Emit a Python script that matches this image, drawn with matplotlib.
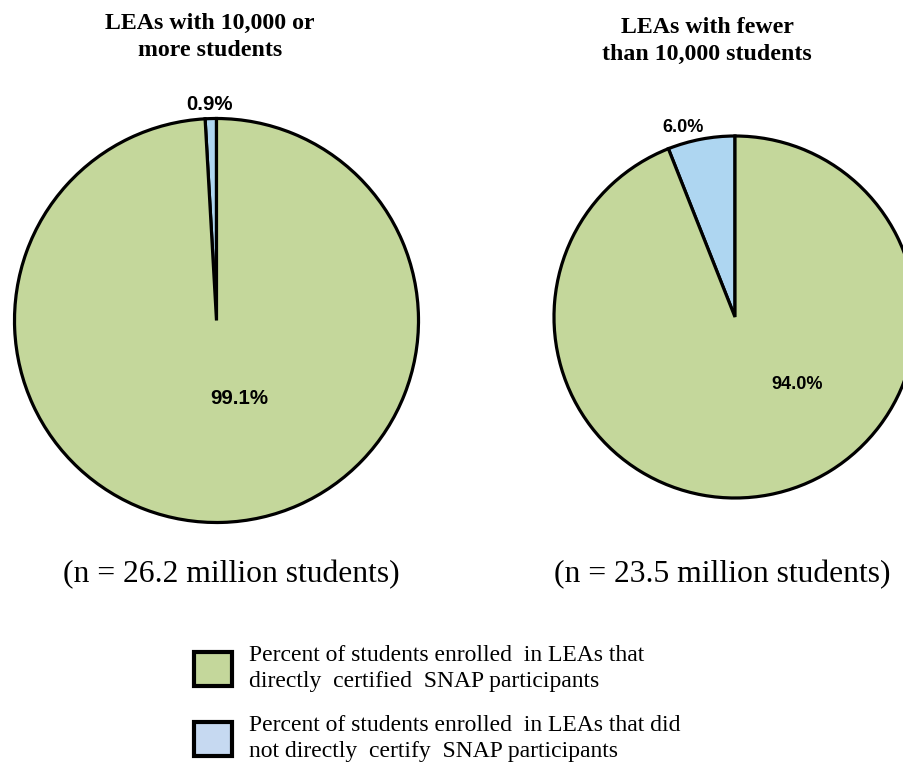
import matplotlib
matplotlib.use("Agg")
import matplotlib.pyplot as plt
from matplotlib.patches import Patch

# Data
titles = ["LEAs with 10,000 or\nmore students", "LEAs with fewer\nthan 10,000 students"]
n_labels = ["(n = 26.2 million students)", "(n = 23.5 million students)"]
not_certified = [0.9, 6.0]
certified = [99.1, 94.0]
legend_labels = ["Percent of students enrolled  in LEAs that\ndirectly  certified  SNAP participants",
                 "Percent of students enrolled  in LEAs that did\nnot directly  certify  SNAP participants"]

green = "#C4D79B"
blue = "#AED6F1"
legend_blue = "#C6D9F1"

W, H = 904, 763
fig = plt.figure(figsize=(W / 100, H / 100), dpi=100)
ax = fig.add_axes([0, 0, 1, 1])

centers = [(216.5, H - 320.5), (735, H - 317)]
radii = [202, 181]
title_pos = [(210, H - 37), (707, H - 41)]
n_pos = [(231, H - 575), (722, H - 575)]
small_lbl_pos = [(210, H - 104), (683, H - 128)]
big_lbl_pos = [(239, H - 399), (797, H - 385)]
lbl_sizes = [14.7, 13.1]

for i in range(2):
    ax.pie([not_certified[i], certified[i]], colors=[blue, green], startangle=90,
           counterclock=True, center=centers[i], radius=radii[i],
           wedgeprops=dict(edgecolor="black", linewidth=2.3))
    ax.text(*title_pos[i], titles[i], ha="center", va="center", fontsize=17.2,
            fontweight="bold", family="Liberation Serif", linespacing=1.4)
    ax.text(*n_pos[i], n_labels[i], ha="center", va="center", fontsize=22.8,
            family="Liberation Serif")
    ax.text(*small_lbl_pos[i], f"{not_certified[i]:.1f}%", ha="center", va="center",
            fontsize=lbl_sizes[i], fontweight="bold", family="Liberation Sans")
    ax.text(*big_lbl_pos[i], f"{certified[i]:.1f}%", ha="center", va="center",
            fontsize=lbl_sizes[i], fontweight="bold", family="Liberation Sans")

ax.set_xlim(0, W)
ax.set_ylim(0, H)
ax.set_aspect("equal")
ax.axis("off")

handles = [Patch(facecolor=green, edgecolor="black", linewidth=3.0),
           Patch(facecolor=legend_blue, edgecolor="black", linewidth=3.0)]
leg = fig.legend(handles, legend_labels, loc="upper left", bbox_to_anchor=(194 / W, 1 - 645 / H),
                 frameon=False, prop=dict(family="Liberation Serif", size=17),
                 handlelength=1.6, handleheight=1.84, handletextpad=0.75, labelspacing=0.95,
                 borderaxespad=0, borderpad=0)
for t in leg.get_texts():
    t.set_linespacing(1.32)

fig.savefig("out.png", dpi=100)
